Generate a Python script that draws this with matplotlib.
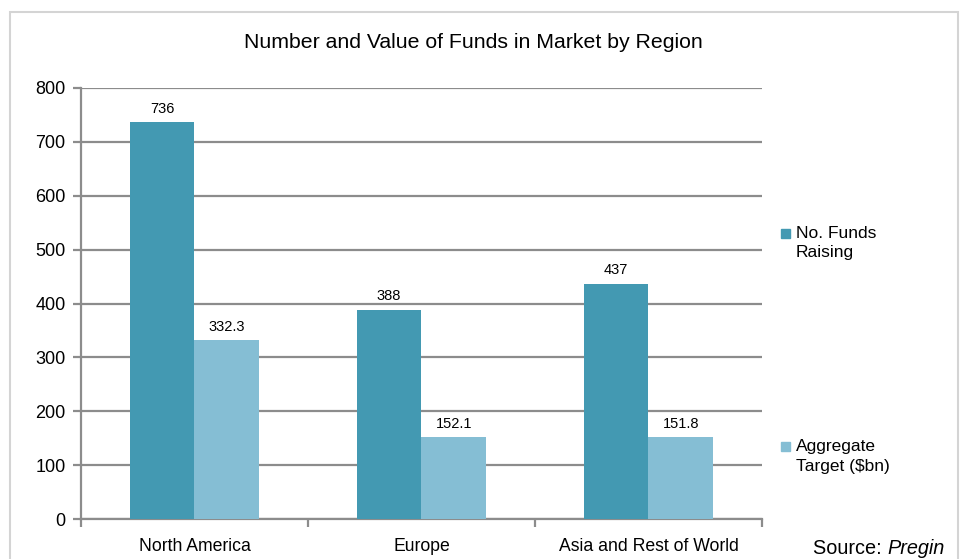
import matplotlib.pyplot as plt
import numpy as np
from matplotlib.patches import Rectangle

plt.rcParams['font.family'] = ['Liberation Sans', 'DejaVu Sans']

regions = ["North America", "Europe", "Asia and Rest of World"]
num_funds = [736, 388, 437]
agg_target = [332.3, 152.1, 151.8]
num_labels = ["736", "388", "437"]
agg_labels = ["332.3", "152.1", "151.8"]

dark = "#4399b2"
light = "#85bed4"
grid_col = "#8c8c8c"

fig = plt.figure(figsize=(9.62, 5.59), dpi=100)
ax = fig.add_axes([81 / 962, 40 / 559, 681 / 962, 431 / 559])

# outer chart frame
fig.patches.append(Rectangle((10 / 962, -0.05), 948 / 962, 1.05 - 12 / 559,
                             transform=fig.transFigure, fill=False,
                             edgecolor="#d4d4d4", linewidth=1.5))

x = np.arange(len(regions))
w = 0.286
b1 = ax.bar(x - w / 2, num_funds, w, color=dark, zorder=3)
b2 = ax.bar(x + w / 2, agg_target, w, color=light, zorder=3)

for bars, labels in ((b1, num_labels), (b2, agg_labels)):
    for bar, lab in zip(bars, labels):
        ax.text(bar.get_x() + bar.get_width() / 2, bar.get_height() + 12, lab,
                ha="center", va="bottom", fontsize=10.5, color="black")

ax.set_xlim(-0.5, 2.5)
ax.set_ylim(0, 800)
ax.set_yticks(np.arange(0, 801, 100))
ax.yaxis.grid(True, color=grid_col, linewidth=1.6, zorder=0)
ax.set_axisbelow(True)

ax.set_xticks([-0.5, 0.5, 1.5, 2.5])
ax.set_xticklabels([])
ax.set_xticks(x, minor=True)
ax.set_xticklabels(regions, minor=True, fontsize=12.7)
ax.tick_params(axis="x", which="minor", length=0, pad=14)
ax.tick_params(axis="x", which="major", length=6, width=1.6, color=grid_col)
ax.tick_params(axis="y", length=6, width=1.6, color=grid_col, labelsize=13, pad=5)

for s in ("top", "right"):
    ax.spines[s].set_visible(False)
for s in ("left", "bottom"):
    ax.spines[s].set_color(grid_col)
    ax.spines[s].set_linewidth(1.6)

fig.text(473 / 962, 1 - 43 / 559, "Number and Value of Funds in Market by Region",
         ha="center", va="center", fontsize=15.3)

# legend
legend_items = [(dark, ["No. Funds", "Raising"], 233), (light, ["Aggregate", "Target ($bn)"], 446)]
for col, lines, y0 in legend_items:
    fig.patches.append(Rectangle((781 / 962, 1 - (y0 + 4.5) / 559), 9 / 962, 9 / 559,
                                 transform=fig.transFigure, color=col))
    for i, line in enumerate(lines):
        fig.text(796 / 962, 1 - (y0 + 20 * i) / 559, line, ha="left", va="center",
                 fontsize=12.5)

src = fig.text(813 / 962, 1 - 549 / 559, "Source: ", ha="left", va="center", fontsize=14.3)
fig.canvas.draw()
bb = src.get_window_extent()
fig.text(bb.x1 / 962, 1 - 549 / 559, "Pregin", ha="left", va="center", fontsize=14.3,
         style="italic")

fig.savefig("out.png", dpi=100)
